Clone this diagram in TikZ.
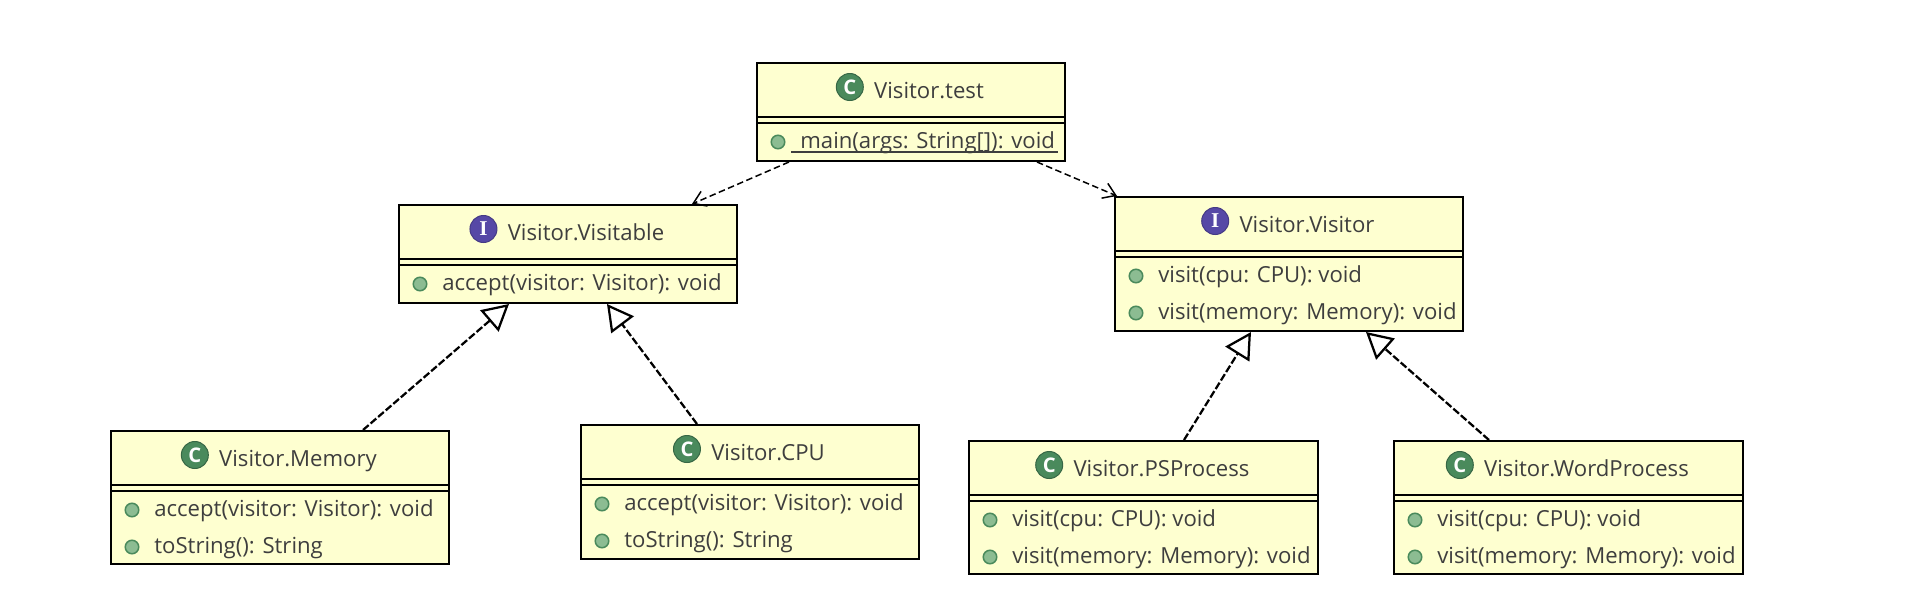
\documentclass[tikz,border=0pt]{standalone}
\usepackage{fontspec}
\setmainfont{Open Sans}
\newfontfamily\iconfont{Liberation Serif}
\usepackage{xcolor}
\usepackage{tikz}
\usetikzlibrary{calc,arrows.meta}
\definecolor{boxyellow}{RGB}{254,255,208}
\definecolor{inkgray}{RGB}{62,62,62}
\definecolor{classgreen}{RGB}{74,138,92}
\definecolor{ifacepurple}{RGB}{86,72,166}
\definecolor{dotgreen}{RGB}{140,188,146}
\tikzset{
umlbox/.style={draw=black,fill=boxyellow,line width=0.04cm,anchor=north west,inner sep=0pt,outer sep=0pt},
umltext/.style={anchor=base west,inner sep=0pt,text=inkgray,font=\fontsize{12.6}{15}\selectfont},
umltitle/.style={umltext,anchor=base},
iconC/.style={circle,fill=classgreen,draw=classgreen!75!black,line width=0.02cm,minimum size=0.54cm,inner sep=0pt,text=white,font=\bfseries\fontsize{11.5}{11.5}\selectfont},
iconI/.style={iconC,fill=ifacepurple,draw=ifacepurple!80!black,font=\iconfont\bfseries\fontsize{12}{12}\selectfont},
dot/.style={circle,fill=dotgreen,draw=classgreen,line width=0.03cm,minimum size=0.27cm,inner sep=0pt},
depline/.style={dash pattern=on 0.13cm off 0.07cm,line width=0.03cm,-{Straight Barb[length=0.24cm,width=0.32cm]}},
implline/.style={dash pattern=on 0.15cm off 0.05cm,line width=0.045cm,-{Triangle[open,length=0.52cm,width=0.56cm,fill=white]}}
}
% name, x, y, w, h, icon, title, methods
\newcommand{\umlclass}[8]{
\node[umlbox,minimum width=#4*0.02cm,minimum height=#5*0.02cm] (#1) at (#2,#3) {};
\draw[line width=0.04cm] ($(#1.north west)+(0,54)$)--($(#1.north east)+(0,54)$);
\draw[line width=0.04cm] ($(#1.north west)+(0,60)$)--($(#1.north east)+(0,60)$);
\node[umltitle] (#1t) at ($(#1.north)+(18,35)$) {#7};
\node[icon#6] (#1i) at ($(#1t.base west)+(-24,-11)$) {#6};
\foreach \m [count=\i] in {#8} {
\node[umltext] (#1m\i) at ($(#1.north west)+(43,48+37*\i)$) {\m};
\node[dot] (#1d\i) at ($(#1m\i.base west)+(-22,-6)$) {};
}
}
\begin{document}
\begin{tikzpicture}[x=0.02cm,y=-0.02cm]
\useasboundingbox (0,0) rectangle (1908,602);
\umlclass{test}{757}{63}{308}{98}{C}{Visitor.test}{main(args: String[]): void}
\draw[line width=0.03cm,inkgray] ($(testm1.base west)+(-9,4)$)--($(testm1.base east)+(3,4)$);
\umlclass{visitable}{399}{205}{338}{98}{I}{Visitor.Visitable}{accept(visitor: Visitor): void}
\umlclass{visitor}{1115}{197}{348}{134}{I}{Visitor.Visitor}{visit(cpu: CPU): void,visit(memory: Memory): void}
\umlclass{memory}{111}{431}{338}{133}{C}{Visitor.Memory}{accept(visitor: Visitor): void,toString(): String}
\umlclass{cpu}{581}{425}{338}{134}{C}{Visitor.CPU}{accept(visitor: Visitor): void,toString(): String}
\umlclass{psprocess}{969}{441}{349}{133}{C}{Visitor.PSProcess}{visit(cpu: CPU): void,visit(memory: Memory): void}
\umlclass{wordprocess}{1394}{441}{349}{133}{C}{Visitor.WordProcess}{visit(cpu: CPU): void,visit(memory: Memory): void}
\draw[depline] ($(test.south west)+(32,1)$)--($(visitable.north west)+(293,-1)$);
\draw[depline] ($(test.south west)+(280,1)$)--($(visitor.north west)+(2,-1)$);
\draw[implline] ($(memory.north west)+(252,-1)$)--($(visitable.south west)+(110,1)$);
\draw[implline] ($(cpu.north west)+(116,-1)$)--($(visitable.south west)+(208,1)$);
\draw[implline] ($(psprocess.north west)+(215,-1)$)--($(visitor.south west)+(136,1)$);
\draw[implline] ($(wordprocess.north west)+(95,-1)$)--($(visitor.south west)+(251,1)$);
\end{tikzpicture}
\end{document}
